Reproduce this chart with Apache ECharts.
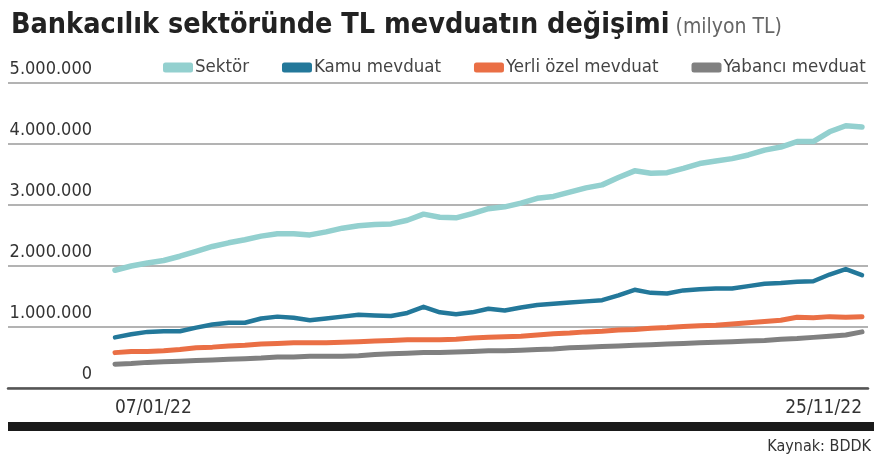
<!DOCTYPE html>
<html>
<head>
<meta charset="utf-8">
<script src="https://cdn.jsdelivr.net/npm/echarts@6/dist/echarts.min.js"></script>
<style>
html,body{margin:0;padding:0;background:#fff}
#chart{width:874px;height:462px}
</style>
</head>
<body>
<div id="chart"></div>
<script>
// haftalik veriler (milyon TL)
var dates = ['07/01/22','14/01/22','21/01/22','28/01/22','04/02/22','11/02/22','18/02/22','25/02/22',
	'04/03/22','11/03/22','18/03/22','25/03/22','01/04/22','08/04/22','15/04/22','22/04/22','29/04/22',
	'06/05/22','13/05/22','20/05/22','27/05/22','03/06/22','10/06/22','17/06/22','24/06/22',
	'01/07/22','08/07/22','15/07/22','22/07/22','29/07/22','05/08/22','12/08/22','19/08/22','26/08/22',
	'02/09/22','09/09/22','16/09/22','23/09/22','30/09/22','07/10/22','14/10/22','21/10/22','28/10/22',
	'04/11/22','11/11/22','18/11/22','25/11/22'];

var sektor = [1930000,2000000,2050000,2090000,2160000,2240000,2320000,2380000,2430000,2490000,2530000,2530000,
	2510000,2560000,2620000,2660000,2680000,2690000,2750000,2850000,2800000,2790000,2860000,2940000,
	2970000,3030000,3110000,3140000,3210000,3280000,3330000,3450000,3560000,3520000,3530000,3600000,
	3680000,3720000,3760000,3820000,3900000,3950000,4040000,4040000,4200000,4300000,4280000];

var kamu = [830000,880000,920000,930000,930000,990000,1040000,1070000,1070000,1140000,1170000,1150000,
	1110000,1140000,1170000,1200000,1190000,1180000,1230000,1330000,1240000,1210000,1240000,1300000,
	1270000,1320000,1360000,1380000,1400000,1420000,1440000,1520000,1610000,1560000,1550000,1600000,
	1620000,1630000,1630000,1670000,1710000,1720000,1740000,1750000,1860000,1950000,1850000];

var yerli = [580000,600000,600000,610000,630000,660000,670000,690000,700000,720000,730000,740000,
	740000,740000,750000,760000,770000,780000,790000,790000,790000,800000,820000,830000,
	840000,850000,870000,890000,900000,920000,930000,950000,960000,980000,990000,1010000,
	1020000,1030000,1050000,1070000,1090000,1110000,1160000,1150000,1170000,1160000,1170000];

var yabanci = [390000,400000,420000,430000,440000,450000,460000,470000,480000,490000,510000,510000,
	520000,520000,520000,530000,550000,560000,570000,580000,580000,590000,600000,610000,
	610000,620000,630000,640000,660000,670000,680000,690000,700000,710000,720000,730000,
	740000,750000,760000,770000,780000,800000,810000,830000,850000,870000,920000];

var seriesNames = ['Sektör', 'Kamu mevduat', 'Yerli özel mevduat', 'Yabancı mevduat'];
var colors = ['#93d0cf', '#23789a', '#ea6f45', '#808080'];

var FONT = "'DejaVu Sans Condensed', 'Liberation Sans Narrow', sans-serif";

// binlik ayirici nokta
function fmt(v) {
	return String(v).replace(/\B(?=(\d{3})+(?!\d))/g, '.');
}

var option = {
	animation: false,
	color: colors,
	title: {
		text: '{a|Bankacılık sektöründe TL mevduatın değişimi}{b| (milyon TL)}',
		left: 6, top: 6,
		textStyle: {
			rich: {
				a: {fontFamily: FONT, fontSize: 28.5, fontWeight: 'bold', color: '#222'},
				b: {fontFamily: FONT, fontSize: 21, fontWeight: 'normal', color: '#666', padding: [5, 0, 0, 0]}
			}
		}
	},
	legend: {
		data: seriesNames,
		left: 163, top: 58,
		padding: 0,
		icon: 'roundRect',
		itemWidth: 30, itemHeight: 10,
		itemGap: 33,
		textStyle: {fontFamily: FONT, fontSize: 18.5, color: '#444', padding: [0, 0, 0, -3]}
	},
	grid: [
		{left: 8, right: 6, top: 83, bottom: 74},
		{left: 115, right: 12, top: 83, bottom: 74}
	],
	xAxis: [
		{
			gridIndex: 0, type: 'value', min: 0, max: 1,
			axisLine: {show: true, onZero: false, lineStyle: {color: '#555', width: 2.5}},
			axisTick: {show: false}, axisLabel: {show: false}, splitLine: {show: false}
		},
		{
			gridIndex: 1, type: 'category', boundaryGap: false, data: dates,
			axisLine: {show: false}, axisTick: {show: false},
			axisLabel: {
				interval: function (i) { return i === 0 || i === dates.length - 1; },
				alignMinLabel: 'left', alignMaxLabel: 'right',
				margin: 11,
				fontFamily: FONT, fontSize: 19, color: '#333'
			}
		}
	],
	yAxis: [
		{
			gridIndex: 0, type: 'value', min: 0, max: 5000000, interval: 1000000,
			axisLine: {show: false}, axisTick: {show: false},
			axisLabel: {
				inside: true, align: 'right', verticalAlign: 'bottom', margin: 84,
				padding: [0, 0, 5, 0],
				fontFamily: FONT, fontSize: 18, color: '#333',
				formatter: fmt
			},
			splitLine: {lineStyle: {color: '#9a9a9a', width: 1.5}}
		},
		{
			gridIndex: 1, type: 'value', min: 0, max: 5000000, interval: 1000000, show: false
		}
	],
	series: [
		{name: seriesNames[0], type: 'line', data: sektor, lineStyle: {width: 5.5}},
		{name: seriesNames[1], type: 'line', data: kamu, lineStyle: {width: 4.5}},
		{name: seriesNames[2], type: 'line', data: yerli, lineStyle: {width: 5}},
		{name: seriesNames[3], type: 'line', data: yabanci, lineStyle: {width: 5}}
	].map(function (s) {
		s.xAxisIndex = 1;
		s.yAxisIndex = 1;
		s.showSymbol = false;
		s.lineStyle.cap = 'round';
		s.lineStyle.join = 'round';
		return s;
	}),
	graphic: [
		{type: 'rect', shape: {x: 8, y: 422, width: 866, height: 9}, style: {fill: '#1a1a1a'}},
		{type: 'text', right: 3, top: 439, style: {text: 'Kaynak: BDDK', fontFamily: FONT, fontSize: 16, fill: '#333'}}
	]
};

var myChart = echarts.init(document.getElementById('chart'));
myChart.setOption(option);
</script>
</body>
</html>
